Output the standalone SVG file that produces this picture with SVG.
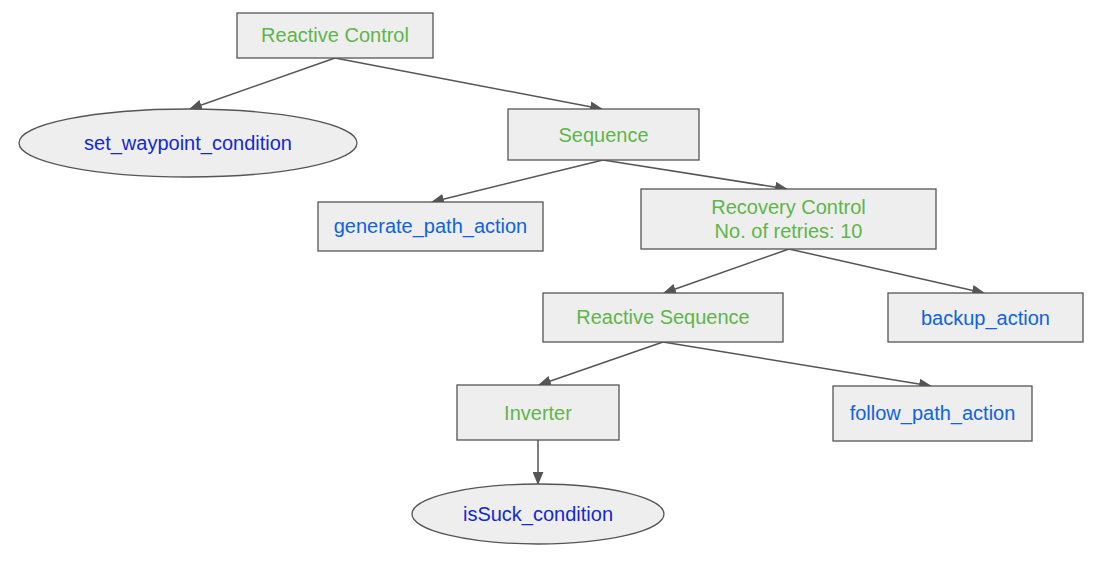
<svg xmlns="http://www.w3.org/2000/svg" width="1109" height="563" viewBox="0 0 1109 563">
<style>
.n{fill:#eeeeee;stroke:#555555;stroke-width:1.3}
.t{font-family:"Liberation Sans",Arial,sans-serif;font-size:20px;text-anchor:middle;dominant-baseline:central}
.g{fill:#5fb54b}
.a{fill:#0f63dc}
.c{fill:#1428d2}
.e{stroke:#555555;stroke-width:1.5;fill:none;marker-end:url(#ah)}
</style>
<defs>
<marker id="ah" viewBox="0 0 12 10" refX="11" refY="5" markerWidth="13" markerHeight="11" markerUnits="userSpaceOnUse" orient="auto">
<path d="M0,0 L12,5 L0,10 z" fill="#555555"/>
</marker>
</defs>
<rect width="1109" height="563" fill="#ffffff"/>
<g id="connectors">
<line class="e" x1="335" y1="58" x2="190" y2="109"/>
<line class="e" x1="335" y1="58" x2="602" y2="109"/>
<line class="e" x1="603" y1="160" x2="432" y2="202"/>
<line class="e" x1="603" y1="160" x2="787" y2="189"/>
<line class="e" x1="789" y1="249" x2="664" y2="293"/>
<line class="e" x1="789" y1="249" x2="984" y2="293"/>
<line class="e" x1="663" y1="342" x2="539" y2="385"/>
<line class="e" x1="663" y1="342" x2="931" y2="386"/>
<line class="e" x1="538" y1="440" x2="538" y2="484"/>
</g>
<g id="reactive_control">
<rect class="n" x="237" y="13" width="196" height="45"/>
<text class="t g" x="335" y="35">Reactive Control</text>
</g>
<g id="set_waypoint_condition">
<ellipse class="n" cx="188" cy="143" rx="169" ry="34"/>
<text class="t c" x="188" y="143">set_waypoint_condition</text>
</g>
<g id="sequence">
<rect class="n" x="508" y="109" width="191" height="51"/>
<text class="t g" x="603.5" y="135">Sequence</text>
</g>
<g id="generate_path_action">
<rect class="n" x="318" y="202" width="225" height="49"/>
<text class="t a" x="430.5" y="226">generate_path_action</text>
</g>
<g id="recovery_control">
<rect class="n" x="641" y="189" width="295" height="60"/>
<text class="t g" x="788.5" y="207">Recovery Control</text>
<text class="t g" x="788.5" y="231">No. of retries: 10</text>
</g>
<g id="reactive_sequence">
<rect class="n" x="543" y="293" width="240" height="49"/>
<text class="t g" x="663" y="317">Reactive Sequence</text>
</g>
<g id="backup_action">
<rect class="n" x="888" y="293" width="195" height="49"/>
<text class="t a" x="985.5" y="318">backup_action</text>
</g>
<g id="inverter">
<rect class="n" x="457" y="385" width="162" height="55"/>
<text class="t g" x="538" y="413">Inverter</text>
</g>
<g id="follow_path_action">
<rect class="n" x="833" y="386" width="199" height="55"/>
<text class="t a" x="932.5" y="413">follow_path_action</text>
</g>
<g id="isSuck_condition">
<ellipse class="n" cx="538" cy="514" rx="126" ry="30"/>
<text class="t c" x="538" y="514">isSuck_condition</text>
</g>
</svg>
